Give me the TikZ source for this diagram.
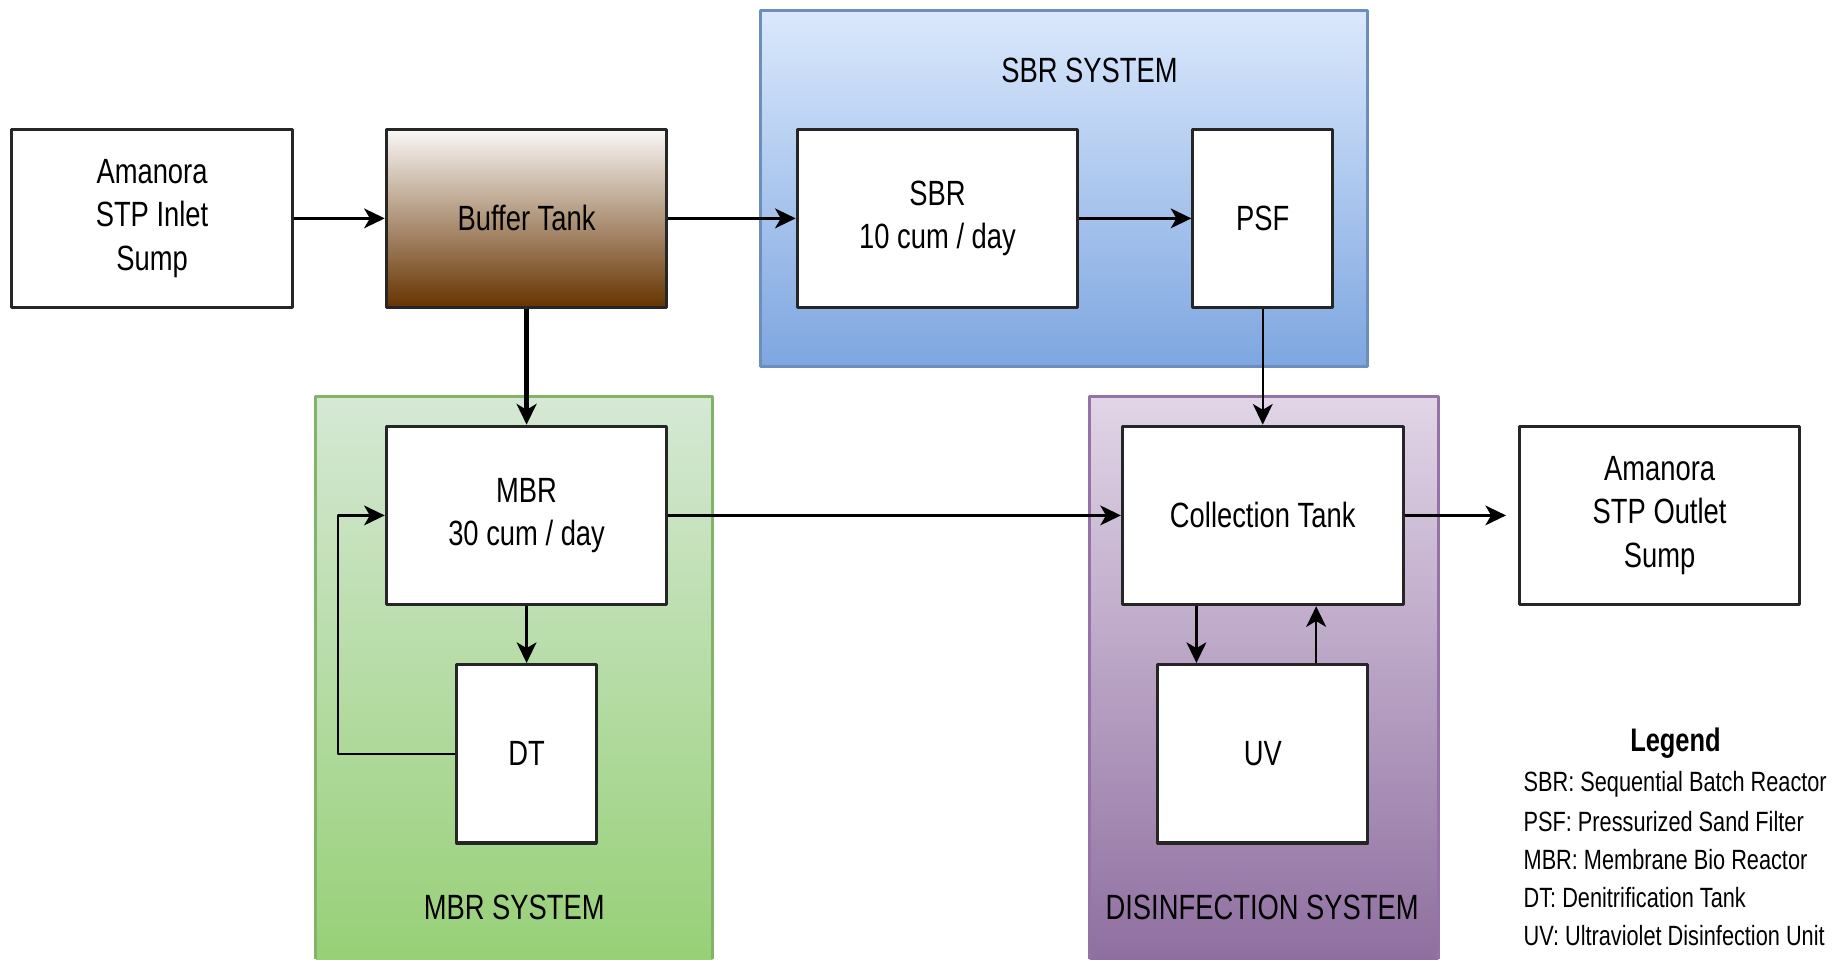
\documentclass[tikz,border=0pt]{standalone}
\usepackage{fontspec}
\setmainfont[FakeStretch=0.78]{Liberation Sans}
\usetikzlibrary{arrows.meta}
\definecolor{sbrtop}{HTML}{DAE8FC} \definecolor{sbrbot}{HTML}{7EA6E0} \definecolor{sbrline}{HTML}{6C8EBF}
\definecolor{mbrtop}{HTML}{D5E8D4} \definecolor{mbrbot}{HTML}{97D077} \definecolor{mbrline}{HTML}{82B366}
\definecolor{distop}{HTML}{E1D5E7} \definecolor{disbot}{HTML}{8F6FA0} \definecolor{disline}{HTML}{9673A6}
\definecolor{buftop}{HTML}{FAF8F6} \definecolor{bufbot}{HTML}{663300}
\begin{document}
\begin{tikzpicture}[x=0.1mm, y=-0.1mm, font=\fontsize{8.5}{10.5}\selectfont, line join=round,
  >={Stealth[length=5pt,width=4.8pt,inset=1.4pt]},
  box/.style={draw=black!85, line width=0.75pt, fill=white, align=center, inner sep=0pt,
    minimum width=23.9mm, minimum height=15.2mm},
  smallbox/.style={box, minimum width=11.9mm},
  flow/.style={->, line width=0.6pt},
  legtext/.style={anchor=west, inner sep=0pt, font=\fontsize{6.75}{8.5}\selectfont}]
\useasboundingbox (0,0) rectangle (1568,817);
% system backgrounds
\shade[top color=sbrtop, bottom color=sbrbot] (648,9) rectangle (1165,312);
\draw[sbrline, line width=0.8pt] (648,9) rectangle (1165,312);
\shade[top color=mbrtop, bottom color=mbrbot] (269,338) rectangle (607,817);
\draw[mbrline, line width=0.8pt] (269,817)--(269,338)--(607,338)--(607,817);
\shade[top color=distop, bottom color=disbot] (928,338) rectangle (1225,817);
\draw[disline, line width=0.8pt] (928,817)--(928,338)--(1225,338)--(1225,817);
\node (sbrsys) at (928,60) {SBR SYSTEM};
\node (mbrsys) at (438,773) {MBR SYSTEM};
\node (dissys) at (1075,773) {DISINFECTION SYSTEM};
% units
\node[box] (inlet) at (129.5,186) {Amanora\\STP Inlet\\Sump};
\node[box, top color=buftop, bottom color=bufbot] (buffer) at (448.5,186) {Buffer Tank};
\node[box] (sbr) at (798.5,186) {SBR\\10 cum / day};
\node[smallbox] (psf) at (1075.5,186) {PSF};
\node[box] (mbr) at (448.5,439) {MBR\\30 cum / day};
\node[smallbox] (dt) at (448.5,642) {DT};
\node[box] (coll) at (1075.5,439) {Collection Tank};
\node[box, minimum width=17.9mm] (uv) at (1075.5,642) {UV};
\node[box] (outlet) at (1413.5,439) {Amanora\\STP Outlet\\Sump};
% flows
\draw[flow] (inlet) -- (buffer);
\draw[flow] (buffer) -- (sbr);
\draw[flow] (sbr) -- (psf);
\draw[flow, line width=1.1pt] (buffer) -- (mbr);
\draw[flow] (mbr) -- (dt);
\draw[flow] (dt.west) -- ++(-100,0) |- (mbr.west);
\draw[flow] (mbr) -- (coll);
\draw[flow] (psf) -- (coll);
\draw[flow] ([xshift=-5.65mm]coll.south) -- ([xshift=-5.65mm]uv.north);
\draw[flow] ([xshift=4.55mm]uv.north) -- ([xshift=4.55mm]coll.south);
\draw[flow, shorten >=1mm] (coll) -- (outlet);
% legend
\node[font=\bfseries\fontsize{7.9}{9.5}\selectfont] (legend) at (1427,633) {Legend};
\foreach \abbr/\txt [count=\i] in {SBR/Sequential Batch Reactor, PSF/Pressurized Sand Filter,
  MBR/Membrane Bio Reactor, DT/Denitrification Tank, UV/Ultraviolet Disinfection Unit}
  \node[legtext] (leg\i) at (1297,{635.5+32.3*\i}) {\abbr: \txt};
\end{tikzpicture}
\end{document}
